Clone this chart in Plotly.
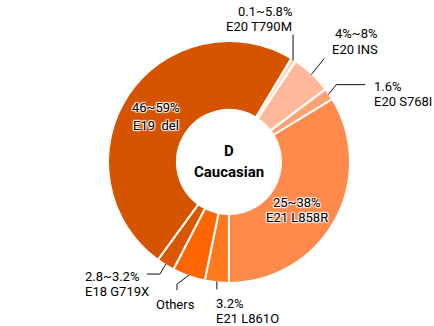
import math
import plotly.graph_objects as go

W, H = 434, 326

# EGFR mutation shares, clockwise from the T790M slice
labels = ["E20 T790M", "E20 INS", "E20 S768I", "E21 L858R", "E21 L861O",
          "Others", "E18 G719X", "E19 del"]
values = [0.7, 5.4, 1.6, 33.7, 3.2, 4.4, 2.4, 48.6]
range_text = ["0.1~5.8%", "4%~8%", "1.6%", "25~38%", "3.2%", "", "2.8~3.2%", "46~59%"]
colors = ["#FDD5C0", "#FFB89A", "#FFA274", "#FF8A4C", "#FF7A1F",
          "#FF6600", "#D95700", "#D65400"]

# donut geometry in pixels
cx, cy, R = 229, 162, 121
hole = 0.43
start_angle = 31


def paper(x, y):
    return x / W, 1 - y / H


def ring_point(i, r=R - 1):
    total = sum(values)
    before = sum(values[:i])
    a = math.radians(start_angle + 360 * (before + values[i] / 2) / total)
    return cx + r * math.sin(a), cy - r * math.cos(a)


x0, y1 = paper(cx - R, cy - R)
x1, y0 = paper(cx + R, cy + R)

fig = go.Figure(go.Pie(
    labels=labels,
    values=values,
    sort=False,
    direction="clockwise",
    rotation=start_angle,
    hole=hole,
    textinfo="none",
    hoverinfo="label+value",
    marker=dict(colors=colors, line=dict(color="white", width=2)),
    domain=dict(x=[x0, x1], y=[y0, y1]),
    showlegend=False,
))

# leader lines: offsets (in px) from the slice's outer edge
leaders = {
    0: [(0, -26)],
    1: [(13, -16)],
    2: [(8, -10), (37, -10)],
    6: [(-6, 10), (-19, 10)],
    5: [(-12, 9), (-12, 15)],
    4: [(0, 8)],
}
shapes = []
for i, offs in leaders.items():
    ax, ay = ring_point(i)
    pts = [(ax, ay)] + [(ax + dx, ay + dy) for dx, dy in offs]
    path = "M " + " L ".join(f"{paper(x, y)[0]:.5f},{paper(x, y)[1]:.5f}" for x, y in pts)
    shapes.append(dict(type="path", path=path, xref="paper", yref="paper",
                       line=dict(color="#111111", width=1)))

font = dict(family="Roboto", size=13, color="#000000")
halo = "1px 1px 1px #fff, -1px -1px 1px #fff, 1px -1px 1px #fff, -1px 1px 1px #fff"

# (text, x, y, anchor, outlined)
texts = [
    (range_text[0], 236, 11, "left", False), (labels[0], 224, 27, "left", False),
    (range_text[1], 333, 34, "left", False), (labels[1], 330, 49, "left", False),
    (range_text[2], 372, 86, "left", False), (labels[2], 372, 101, "left", False),
    (range_text[3], 297, 202, "center", True), (labels[3], 297, 217, "center", True),
    (range_text[4], 214, 303, "left", False), (labels[4], 214, 318, "left", False),
    (labels[5], 154, 304, "left", False),
    (range_text[6], 83, 276, "left", False), (labels[6], 83, 291, "left", False),
    (range_text[7], 156, 108, "center", True), ("E19\u00a0 del", 156, 125, "center", True),
]
annotations = []
for t, x, y, anchor, outlined in texts:
    px, py = paper(x, y)
    f = dict(font)
    if outlined:
        f["shadow"] = halo
    annotations.append(dict(text=t, x=px, y=py, xref="paper", yref="paper",
                            xanchor=anchor, yanchor="middle", showarrow=False, font=f))

for t, y, size in [("<b>D</b>", 151, 15), ("<b>Caucasian</b>", 172, 15)]:
    px, py = paper(cx, y)
    annotations.append(dict(text=t, x=px, y=py, xref="paper", yref="paper",
                            xanchor="center", yanchor="middle", showarrow=False,
                            font=dict(family="Roboto", size=size, color="#000000")))

fig.update_layout(
    width=W, height=H,
    margin=dict(l=0, r=0, t=0, b=0),
    paper_bgcolor="white",
    plot_bgcolor="white",
    shapes=shapes,
    annotations=annotations,
)

fig.write_html("out.html")
